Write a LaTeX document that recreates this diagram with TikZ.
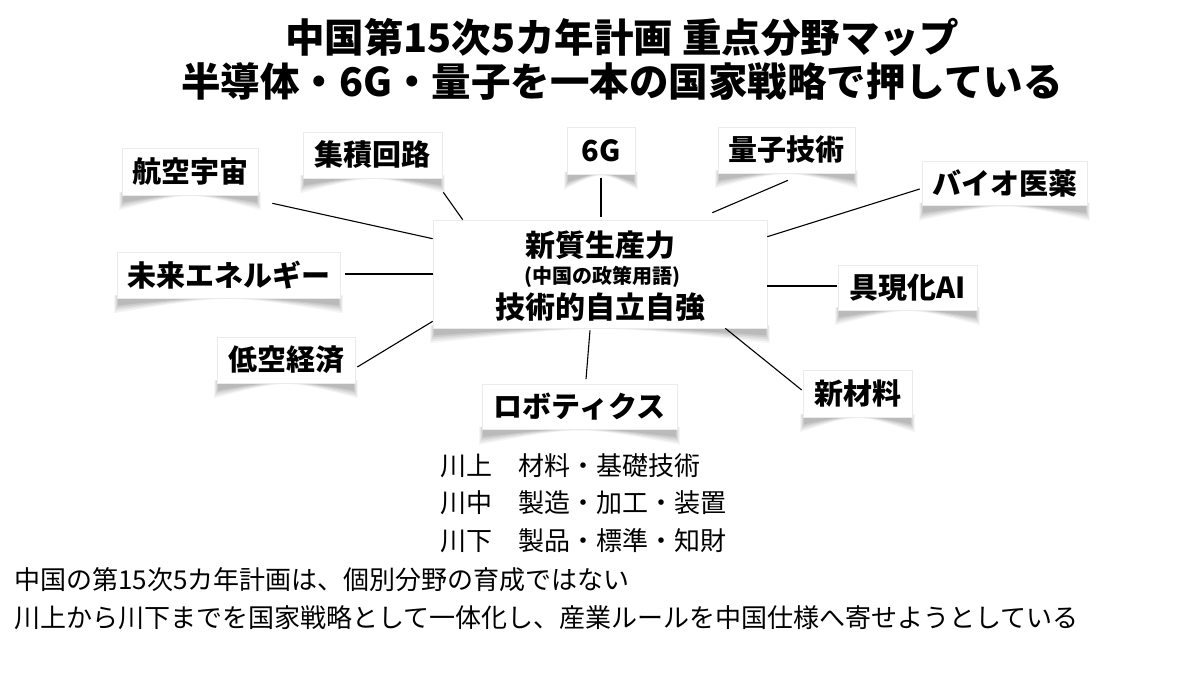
\documentclass[tikz,border=0pt]{standalone}
\usepackage{fontspec}
\setmainfont{Noto Sans CJK JP}
\usetikzlibrary{calc,backgrounds}
\tikzset{
  field/.style={draw=black!8, fill=white, line width=0.6pt, inner sep=0pt,
    minimum width=#1, minimum height=46pt,
    font=\fontsize{29pt}{34pt}\selectfont\bfseries},
  titletext/.style={inner sep=0pt, font=\fontsize{39.5pt}{44pt}\selectfont\bfseries},
  bodytext/.style={inner sep=0pt, anchor=west, font=\fontsize{26pt}{30pt}\selectfont},
  link/.style={draw=black, line width=1.1pt},
}
\newcommand\curllayer[4]{% node, side offset, corner depth, opacity
  \fill[black,opacity=#4] ($(#1.south west)+(-#2,-3)$) -- ($(#1.south west)+(-#2,#3)$)
     .. controls ($(#1.south)+(0,-4)$) .. ($(#1.south east)+(#2,#3)$) -- ($(#1.south east)+(#2,-3)$) -- cycle;
}
\newcommand\curlshadow[1]{%
  \curllayer{#1}{2.5}{15}{0.04}
  \curllayer{#1}{1.5}{13}{0.05}
  \curllayer{#1}{0.5}{11}{0.06}
  \curllayer{#1}{-0.5}{9}{0.07}
  \curllayer{#1}{-1.5}{7}{0.08}
}
\begin{document}
\begin{tikzpicture}[x=1pt,y=-1pt]
\useasboundingbox (0,0) rectangle (1200,675);

% titles
\node[titletext] (t1) at (622,37) {中国第15次5カ年計画 重点分野マップ};
\node[titletext] (t2) at (622,82) {半導体・6G・量子を一本の国家戦略で押している};

% central node
\node[draw=black!8, fill=white, line width=0.6pt, minimum width=334pt, minimum height=108pt] (cen) at (600,274) {};
\node[inner sep=0pt, font=\fontsize{30pt}{34pt}\selectfont\bfseries] (c1) at (600,245) {新質生産力};
\node[inner sep=0pt, font=\fontsize{20pt}{24pt}\selectfont\bfseries] (c2) at (602,277) {(中国の政策用語)};
\node[inner sep=0pt, font=\fontsize{30pt}{34pt}\selectfont\bfseries] (c3) at (600,307) {技術的自立自強};

% fields
\node[field=136pt, minimum height=47pt] (aero) at (190,171.5) {航空宇宙};
\node[field=139pt] (ic) at (372.5,155) {集積回路};
\node[field=68pt, minimum height=47pt] (g6) at (601,151) {6G};
\node[field=137pt] (qt) at (786.5,150) {量子技術};
\node[field=165pt, minimum height=44pt] (bio) at (1004.5,183.5) {バイオ医薬};
\node[field=223pt] (energy) at (228.5,275) {未来エネルギー};
\node[field=139pt, minimum height=45pt] (ai) at (907.5,287.5) {具現化AI};
\node[field=138pt] (low) at (286,360) {低空経済};
\node[field=195pt, minimum height=45pt] (robo) at (579.5,407) {ロボティクス};
\node[field=109pt, minimum height=47pt] (mat) at (857.5,393.5) {新材料};

% connectors
\draw[link] ($(aero.south east)+(14,8)$) -- ($(cen.north west)+(0,19)$);
\draw[link] ($(ic.south east)+(1,14)$) -- ($(cen.north west)+(30,0)$);
\draw[link] ($(g6.south)+(0,3)$) -- ($(cen.north)+(1,-3)$);
\draw[link] ($(qt.south)+(1.5,7)$) -- ($(cen.north east)+(-55,-7)$);
\draw[link] ($(bio.west)+(-2,5.5)$) -- ($(cen.north east)+(0,17)$);
\draw[link] ($(energy.east)+(5,-1)$) -- (cen.west);
\draw[link] ($(cen.east)+(0,12)$) -- ($(ai.west)+(-1,-1.5)$);
\draw[link] ($(low.east)+(2,7)$) -- ($(cen.south west)+(0,-7)$);
\draw[link] ($(robo.north)+(6.5,-5)$) -- ($(cen.south)+(-10,2)$);
\draw[link] ($(mat.west)+(-1,-3.5)$) -- ($(cen.south east)+(-42,0)$);

% value chain list
\node[bodytext] (l1) at (440,466) {川上　材料・基礎技術};
\node[bodytext] (l2) at (440,503) {川中　製造・加工・装置};
\node[bodytext] (l3) at (440,541) {川下　製品・標準・知財};

% bottom text
\node[bodytext] (b1) at (14,580) {中国の第15次5カ年計画は、個別分野の育成ではない};
\node[bodytext] (b2) at (14,618) {川上から川下までを国家戦略として一体化し、産業ルールを中国仕様へ寄せようとしている};

\begin{scope}[on background layer]
  \fill[white] (0,0) rectangle (1200,675);
  \curlshadow{cen}
  \curlshadow{aero}
  \curlshadow{ic}
  \curlshadow{g6}
  \curlshadow{qt}
  \curlshadow{bio}
  \curlshadow{energy}
  \curlshadow{ai}
  \curlshadow{low}
  \curlshadow{robo}
  \curlshadow{mat}
\end{scope}
\end{tikzpicture}
\end{document}
